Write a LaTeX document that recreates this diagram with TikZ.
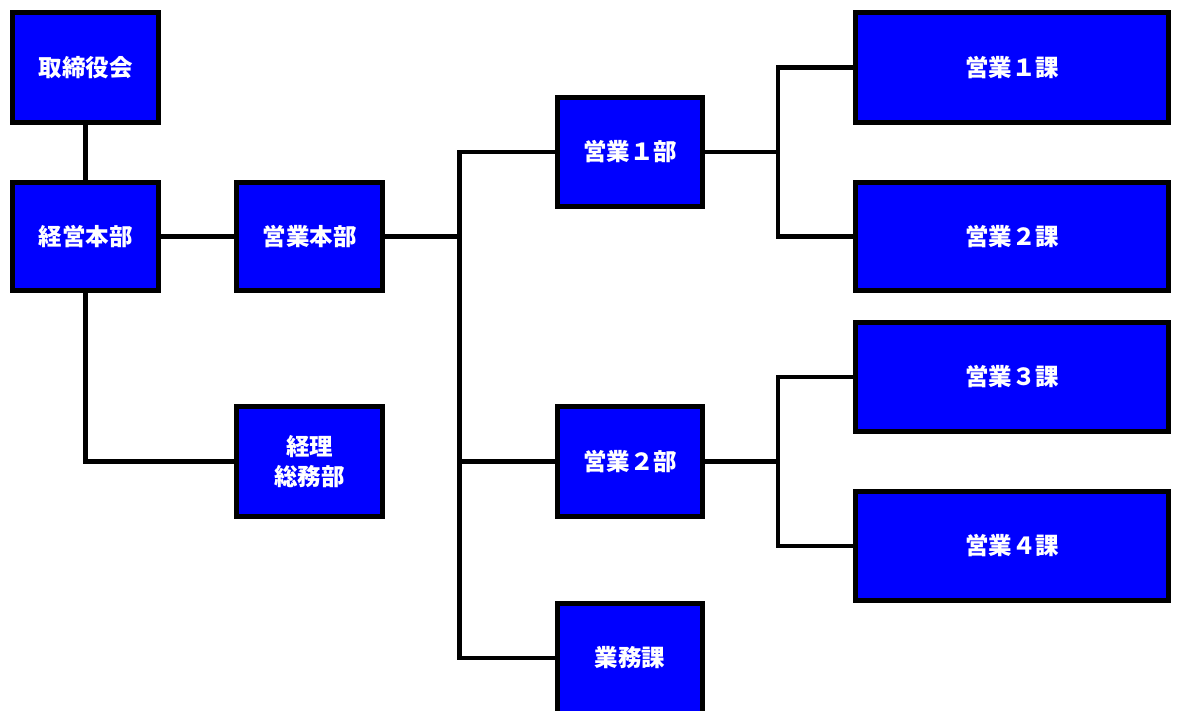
\documentclass[tikz,border=0pt]{standalone}
\usepackage{fontspec}
\newfontfamily\jp{Noto Sans CJK JP}
\tikzset{
  x=1pt, y=-1pt,
  unit/.style={draw=black, line width=5pt, fill=blue, text=white,
    font=\jp\bfseries\fontsize{23.5}{30}\selectfont, align=center,
    inner sep=0pt, outer sep=0pt},
  narrow/.style={unit, minimum width=146pt},
  wide/.style={unit, minimum width=313pt},
  link/.style={draw=black, line width=4.5pt}
}
\begin{document}
\begin{tikzpicture}
\useasboundingbox (0,0) rectangle (1177,710);
\clip (0,0) rectangle (1177,710);

% junction points of the tree
\coordinate (j1) at (459.5,236.5);
\coordinate (j2) at (778,152);
\coordinate (j3) at (778,461.5);

% organisation units
\node[narrow, minimum height=110pt] (board) at (85.5,67.5) {取締役会};
\node[narrow, minimum height=108pt] (mgmt) at (85.5,236.5) {経営本部};
\node[narrow, minimum height=108pt] (sales) at (309.5,236.5) {営業本部};
\node[narrow, minimum height=110pt] (admin) at (309.5,461.5) {経理\\総務部};
\node[narrow, minimum height=109pt, minimum width=145pt] (s1) at (630,152) {営業１部};
\node[narrow, minimum height=110pt, minimum width=145pt] (s2) at (630,461.5) {営業２部};
% the last unit runs past the lower edge of the sheet
\node[narrow, minimum height=130pt, minimum width=145pt, anchor=north,
      text height=16pt, text depth=0pt] (ops) at (630,603.5) {};
\node[unit, draw=none, fill=none] (opslabel) at (630,658) {業務課};
\coordinate (opsin) at (ops.west |- opslabel.west);
\node[wide, minimum height=110pt] (k1) at (1012,67.5) {営業１課};
\node[wide, minimum height=108pt] (k2) at (1012,236.5) {営業２課};
\node[wide, minimum height=109pt] (k3) at (1012,377) {営業３課};
\node[wide, minimum height=109pt] (k4) at (1012,546) {営業４課};

% connectors
\draw[link] (board.south) -- (mgmt.north);
\draw[link] (mgmt.east) -- (sales.west);
\draw[link] (mgmt.south) |- (admin.west);
\draw[link] (sales.east) -- (j1);
\draw[link] (j1) |- (s1.west);
\draw[link] (j1) |- (opsin);
\draw[link] (j1 |- s2.west) -- (s2.west);
\draw[link] (s1.east) -- (j2);
\draw[link] (j2) |- (k1.west);
\draw[link] (j2) |- (k2.west);
\draw[link] (s2.east) -- (j3);
\draw[link] (j3) |- (k3.west);
\draw[link] (j3) |- (k4.west);
\end{tikzpicture}
\end{document}
